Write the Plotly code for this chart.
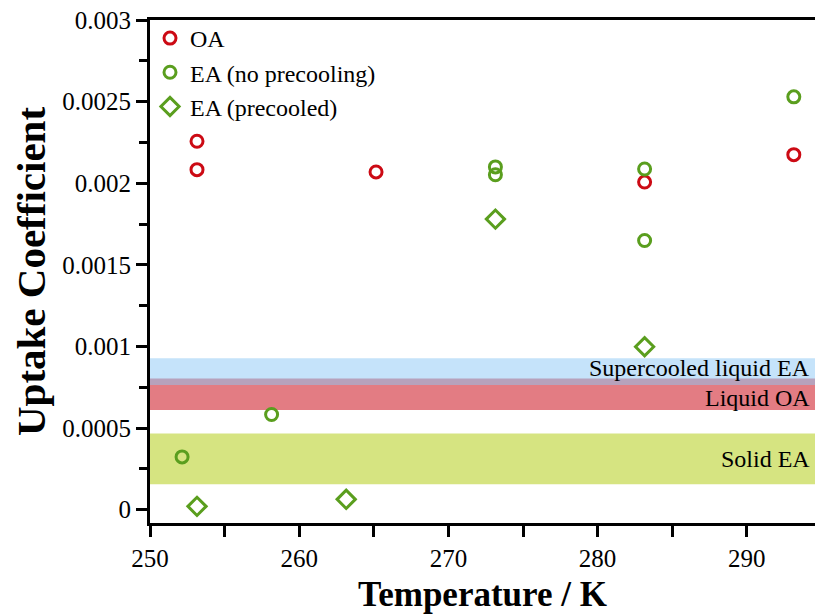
import plotly.graph_objects as go

# Uptake coefficient measurements vs temperature
oa_T = [253.15, 253.15, 265.15, 283.15, 293.15]
oa_gamma = [0.002257, 0.002083, 0.002069, 0.002007, 0.002175]

ea_T = [252.15, 258.15, 273.15, 273.15, 283.15, 283.15, 293.15]
ea_gamma = [0.000323, 0.000583, 0.002100, 0.002052, 0.002087, 0.001649, 0.002529]

eap_T = [253.15, 263.15, 273.15, 283.15]
eap_gamma = [0.000020, 0.000063, 0.001780, 0.000998]

# Temperature axis ticks every 5 K, labelled every 10 K
x_tickvals = [250, 255, 260, 265, 270, 275, 280, 285, 290]
x_ticktext = ["250", "", "260", "", "270", "", "280", "", "290"]

# Literature ranges shown as horizontal bands
band_names = ["Liquid OA", "Supercooled liquid EA", "Solid EA"]
band_lo = [0.00061, 0.000763, 0.000155]
band_hi = [0.000804, 0.000927, 0.000467]
band_fill = ["rgb(227,124,131)", "rgba(139,199,245,0.5)", "rgb(214,228,129)"]
band_label_y = [0.000683, 0.000865, 0.000309]

x_range = [250, 294.57]
y_range = [-0.000082, 0.003]

RED = "#cc0a14"
GREEN = "#5a9e1e"
FONT = "Liberation Serif"

fig = go.Figure()

for name, lo, hi, col, ly in zip(band_names, band_lo, band_hi, band_fill, band_label_y):
    fig.add_shape(type="rect", xref="paper", yref="y", x0=0, x1=1, y0=lo, y1=hi,
                  fillcolor=col, line_width=0, layer="below")
    fig.add_annotation(x=294.35, y=ly, xref="x", yref="y", text=name,
                       showarrow=False, xanchor="right", yanchor="middle",
                       font=dict(family=FONT, size=24, color="black"))

fig.add_trace(go.Scatter(x=oa_T, y=oa_gamma, mode="markers", name="OA",
                         marker=dict(symbol="circle-open", size=12, color=RED,
                                     line=dict(width=3, color=RED))))
fig.add_trace(go.Scatter(x=ea_T, y=ea_gamma, mode="markers", name="EA (no precooling)",
                         marker=dict(symbol="circle-open", size=12, color=GREEN,
                                     line=dict(width=3, color=GREEN))))
fig.add_trace(go.Scatter(x=eap_T, y=eap_gamma, mode="markers", name="EA (precooled)",
                         marker=dict(symbol="diamond-open", size=14, color=GREEN,
                                     line=dict(width=3, color=GREEN))))

axis_common = dict(
    showgrid=False, zeroline=False, showline=True, linecolor="black", linewidth=3,
    ticks="outside", ticklen=11, tickwidth=2.5, tickcolor="black",
    tickfont=dict(family=FONT, size=25, color="black"),
)

fig.update_xaxes(range=x_range, tickmode="array", tickvals=x_tickvals,
                 ticktext=x_ticktext, mirror=True,
                 title=dict(text="<b>Temperature / K</b>", standoff=12,
                            font=dict(family=FONT, size=35, color="black")),
                 **axis_common)
fig.update_yaxes(range=y_range, dtick=0.0005, tick0=0, tickformat="~g",
                 minor=dict(ticks="outside", ticklen=8, tickwidth=2.5, dtick=0.00025,
                            tick0=0, tickcolor="black"),
                 title=dict(text="<b>Uptake Coefficient</b>", standoff=4,
                            font=dict(family=FONT, size=41, color="black")),
                 **axis_common)

fig.update_layout(
    width=815, height=614,
    margin=dict(l=150, r=0, t=20, b=91),
    plot_bgcolor="white", paper_bgcolor="white",
    showlegend=True,
    legend=dict(x=0.0, y=1.008, xanchor="left", yanchor="top",
                bgcolor="rgba(0,0,0,0)", tracegroupgap=0,
                font=dict(family=FONT, size=24, color="black")),
)

fig.write_html("out.html")
